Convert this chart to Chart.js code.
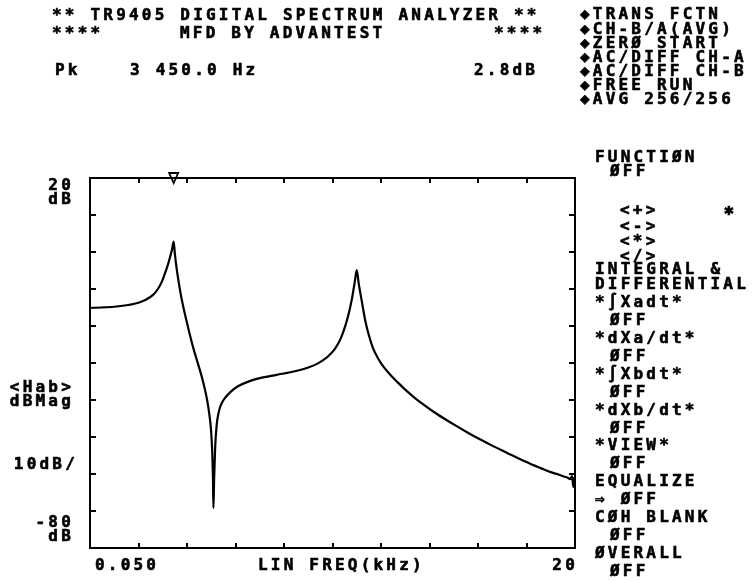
<!DOCTYPE html>
<html>
<head>
<meta charset="utf-8">
<script src="https://cdn.jsdelivr.net/npm/chart.js@4.4.1/dist/chart.umd.min.js"></script>
<style>
  html, body { margin: 0; padding: 0; background: #fff; }
  #wrap { position: relative; width: 755px; height: 581px; overflow: hidden; }
  #chart { position: absolute; left: 0; top: 0; }
  .t {
    position: absolute; white-space: pre; color: #000;
    font: bold 16px "DejaVu Sans Mono", monospace; letter-spacing: 3.2px;
    -webkit-text-stroke: 0.6px #000;
    line-height: 16px; transform: translateY(-50%);
  }
</style>
</head>
<body>
<div id="wrap">
  <canvas id="chart" width="755" height="581"></canvas>
</div>
<script>
// transfer function |H ab| in dB
const freqKHz = [0.05, 0.5, 1.0, 1.5, 2.0, 2.3, 2.6, 2.8, 2.95, 3.1, 3.2, 3.3, 3.38, 3.45,
  3.5, 3.56, 3.63, 3.72, 3.82, 3.95, 4.1, 4.25, 4.42, 4.58, 4.72, 4.83, 4.92, 4.99, 5.04, 5.07, 5.09,
  5.12, 5.16, 5.22, 5.3, 5.42, 5.6, 5.8, 6.1, 6.5, 7.0, 7.7, 8.4, 9.0, 9.4, 9.8, 10.1,
  10.35, 10.55, 10.7, 10.82, 10.92, 11.0, 11.08, 11.2, 11.35, 11.5, 11.67, 11.9, 12.1,
  12.4, 12.7, 13.0, 13.35, 13.7, 14.15, 14.6, 15.1, 15.6, 16.1, 16.6, 17.2, 17.7, 18.25,
  18.5, 18.7, 19.0, 19.3, 19.5, 19.7, 19.8, 19.88, 19.93, 19.97, 20.0];
const magDb = [-15.1, -15.0, -14.8, -14.4, -13.7, -12.9, -11.6, -10.0, -8.2, -5.6, -3.7, -1.4, 0.6, 2.8,
  -0.5, -3.8, -7.0, -10.6, -14.0, -17.8, -21.9, -25.7, -29.5, -33.0, -36.6, -40.0, -43.8, -48.0, -54.0, -61.0, -69.2,
  -61.0, -53.0, -47.0, -43.5, -41.0, -39.2, -37.8, -36.3, -35.1, -34.1, -33.2, -32.3, -31.2, -30.1, -28.3, -26.2,
  -23.2, -19.5, -15.8, -12.0, -8.0, -4.9, -8.5, -13.0, -18.5, -22.5, -26.0, -29.0, -31.0,
  -33.3, -35.3, -37.2, -39.2, -41.0, -43.1, -45.0, -47.0, -48.9, -50.7, -52.4, -54.3, -55.9, -57.5,
  -58.2, -58.7, -59.5, -60.1, -60.6, -61.0, -61.4, -60.6, -63.5, -61.0, -62.0];

const markerKHz = 3.45;
const xTickLabels = ['0.050', '20'];
const xTitle = 'LIN FREQ(kHz)';
const yTopLabel = ['20', 'dB'];
const yBottomLabel = ['-80', 'dB'];
const yTitle = ['<Hab>', 'dBMag'];
const yDivLabel = '10dB/';
const xMin = 0, xMax = 20, xStep = 2;
const yMin = -80, yMax = 20, yStep = 10;

const FONT = 'bold 16px "DejaVu Sans Mono", monospace';

function put(text, x, y) {
  const d = document.createElement('div');
  d.className = 't';
  d.textContent = text;
  d.style.top = y + 'px';
  d.style.left = x + 'px';
  document.getElementById('wrap').appendChild(d);
}

// header
put('** TR9405 DIGITAL SPECTRUM ANALYZER **', 52, 15);
put('****', 52, 33);
put('MFD BY ADVANTEST', 180, 33);
put('****', 494, 33);
put('Pk', 55, 70);
put('3 450.0 Hz', 130, 70);
put('2.8dB', 474, 70);

// right side menu
const menu = [
  ['◆TRANS FCTN', 580, 14], ['◆CH-B/A(AVG)', 580, 29], ['◆ZERØ START', 580, 43],
  ['◆AC/DIFF CH-A', 580, 57], ['◆AC/DIFF CH-B', 580, 71], ['◆FREE RUN', 580, 85],
  ['◆AVG 256/256', 580, 99],
  ['FUNCTIØN', 595, 157], ['ØFF', 610, 171],
  ['<+>', 620, 210], ['✱', 724, 210], ['<->', 620, 226], ['<*>', 620, 241], ['</>', 620, 256],
  ['INTEGRAL &', 595, 269], ['DIFFERENTIAL', 595, 284],
  ['*∫Xadt*', 595, 302], ['ØFF', 610, 320],
  ['*dXa/dt*', 595, 338], ['ØFF', 610, 356],
  ['*∫Xbdt*', 595, 374], ['ØFF', 610, 392],
  ['*dXb/dt*', 595, 410], ['ØFF', 610, 428],
  ['*VIEW*', 595, 445], ['ØFF', 610, 463],
  ['EQUALIZE', 595, 481], ['⇒ ØFF', 595, 499],
  ['CØH BLANK', 595, 517], ['ØFF', 610, 535],
  ['ØVERALL', 595, 553], ['ØFF', 610, 571]
];
menu.forEach(m => put(m[0], m[1], m[2]));

const framePlugin = {
  id: 'frame',
  afterDatasetsDraw(chart) {
    const { ctx, chartArea: a, scales: { x, y } } = chart;
    ctx.save();
    ctx.strokeStyle = '#000';
    ctx.lineWidth = 2;
    ctx.strokeRect(a.left, a.top, a.right - a.left, a.bottom - a.top);
    ctx.beginPath();
    for (let v = xMin + xStep; v < xMax; v += xStep) {
      const px = Math.round(x.getPixelForValue(v));
      ctx.moveTo(px, a.top); ctx.lineTo(px, a.top + 5);
      ctx.moveTo(px, a.bottom); ctx.lineTo(px, a.bottom - 5);
    }
    for (let v = yMin + yStep; v < yMax; v += yStep) {
      const py = Math.round(y.getPixelForValue(v));
      ctx.moveTo(a.left, py); ctx.lineTo(a.left + 6, py);
      ctx.moveTo(a.right, py); ctx.lineTo(a.right - 6, py);
    }
    ctx.stroke();

    // peak marker
    const mx = x.getPixelForValue(markerKHz);
    ctx.lineWidth = 1.8;
    ctx.beginPath();
    ctx.moveTo(mx - 4.5, a.top - 5);
    ctx.lineTo(mx + 4.5, a.top - 5);
    ctx.lineTo(mx, a.top + 5);
    ctx.closePath();
    ctx.stroke();

    // labels
    ctx.fillStyle = '#000';
    ctx.lineWidth = 0.6;
    ctx.font = FONT;
    ctx.letterSpacing = '3.2px';
    ctx.textBaseline = 'middle';
    const txt = (s, px, py) => { ctx.fillText(s, px, py); ctx.strokeText(s, px, py); };
    const ly = a.bottom + 18;
    ctx.textAlign = 'left';
    txt(xTickLabels[0], x.getPixelForValue(xMin) + 5, ly);
    ctx.textAlign = 'right';
    txt(xTickLabels[1], x.getPixelForValue(xMax) + 3, ly);
    ctx.textAlign = 'left';
    txt(xTitle, 258, ly);

    ctx.textAlign = 'right';
    const lx = a.left - 16;
    const yt = y.getPixelForValue(yMax);
    txt(yTopLabel[0], lx, yt + 8);
    txt(yTopLabel[1], lx, yt + 22);
    const yb = y.getPixelForValue(yMin);
    txt(yBottomLabel[0], lx, yb - 25);
    txt(yBottomLabel[1], lx, yb - 11);
    txt(yTitle[0], lx, 388);
    txt(yTitle[1], lx, 402);
    txt(yDivLabel, lx + 4, 465);
    ctx.restore();
  }
};

new Chart(document.getElementById('chart'), {
  type: 'line',
  data: {
    datasets: [{
      data: freqKHz.map((f, i) => ({ x: f, y: magDb[i] })),
      borderColor: '#000',
      borderWidth: 2.2,
      pointRadius: 0,
      cubicInterpolationMode: 'monotone',
      fill: false
    }]
  },
  options: {
    responsive: false,
    animation: false,
    layout: { padding: { left: 90, top: 178, right: 180, bottom: 33 } },
    scales: {
      x: { type: 'linear', min: xMin, max: xMax, display: false },
      y: { min: yMin, max: yMax, display: false }
    },
    plugins: { legend: { display: false }, tooltip: { enabled: false } }
  },
  plugins: [framePlugin]
});
</script>
</body>
</html>
